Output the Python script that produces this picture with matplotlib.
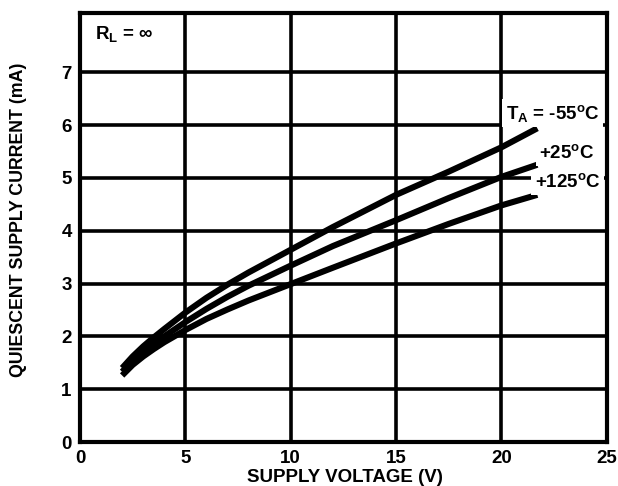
import matplotlib
matplotlib.use('Agg')
import matplotlib.pyplot as plt

plt.rcParams['font.family'] = ['Liberation Sans', 'DejaVu Sans']
plt.rcParams['font.weight'] = 'bold'
plt.rcParams['mathtext.fontset'] = 'custom'
plt.rcParams['mathtext.rm'] = 'Liberation Sans:bold'
plt.rcParams['mathtext.it'] = 'Liberation Sans:bold'
plt.rcParams['mathtext.bf'] = 'Liberation Sans:bold'

# supply voltage (V)
voltage = [2, 2.5, 3, 3.5, 4, 5, 6, 7, 8, 10, 12, 15, 17.5, 20, 21.7]
# quiescent current (mA) per temperature
i_m55 = [1.40, 1.62, 1.81, 1.98, 2.14, 2.45, 2.73, 2.98, 3.21, 3.64, 4.07, 4.68, 5.12, 5.58, 5.94]
i_25 = [1.33, 1.54, 1.71, 1.86, 2.00, 2.27, 2.52, 2.75, 2.96, 3.34, 3.71, 4.20, 4.62, 5.02, 5.25]
i_125 = [1.26, 1.46, 1.62, 1.76, 1.89, 2.12, 2.33, 2.51, 2.68, 2.99, 3.30, 3.76, 4.13, 4.48, 4.68]

x_ticks = [0, 5, 10, 15, 20, 25]
y_ticks = [0, 1, 2, 3, 4, 5, 6, 7]

fig = plt.figure(figsize=(6.18, 4.86), dpi=100)
ax = fig.add_axes([0.1294, 0.0905, 0.8526, 0.8825])

for vals in (i_m55, i_25, i_125):
    ax.plot(voltage, vals, color='black', lw=4.4, solid_capstyle='butt', zorder=3)

ax.set_xlim(0, 25)
ax.set_ylim(0, 8.12)
ax.set_xticks(x_ticks)
ax.set_yticks(y_ticks)
ax.tick_params(length=0, labelsize=13.5, pad=6)
for lab in ax.get_xticklabels() + ax.get_yticklabels():
    lab.set_fontweight('bold')
ax.grid(True, color='black', lw=2.6)
for s in ax.spines.values():
    s.set_linewidth(3.0)

ax.set_xlabel('SUPPLY VOLTAGE (V)', fontsize=13.5, fontweight='bold')
ax.set_ylabel('QUIESCENT SUPPLY CURRENT (mA)', fontsize=12.8, fontweight='bold')
ax.xaxis.set_label_coords(0.502, -0.064)
ax.yaxis.set_label_coords(-0.101, 0.517)

ax.text(0.7, 7.72, r'R$_{\rm L}$ = ∞', fontsize=13.5, va='center', ha='left')
box = dict(facecolor='white', edgecolor='none', pad=2.5)
ax.text(24.65, 6.03, r'T$_{\rm A}$ = -55$^{\rm o}$C', fontsize=13.5, ha='right', va='bottom', bbox=box, zorder=4)
ax.text(24.43, 5.47, r'+25$^{\rm o}$C', fontsize=13.5, ha='right', va='center', bbox=box, zorder=4)
ax.text(24.7, 4.92, r'+125$^{\rm o}$C', fontsize=13.5, ha='right', va='center', bbox=box, zorder=4)

fig.savefig('out.png', dpi=100)
